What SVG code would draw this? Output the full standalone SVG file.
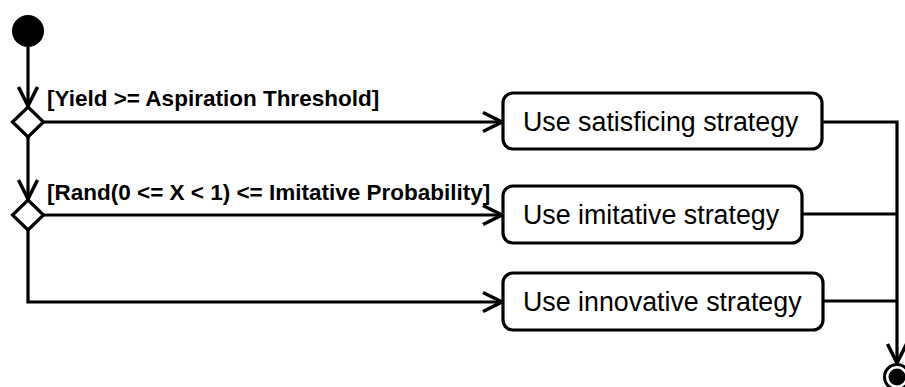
<svg xmlns="http://www.w3.org/2000/svg" width="905" height="387" viewBox="0 0 905 387">
<defs>
<marker id="arr" viewBox="0 0 24 24" refX="21" refY="12" markerWidth="24" markerHeight="24" markerUnits="userSpaceOnUse" orient="auto">
<path d="M2,2.5 L21,12 L2,21.5" fill="none" stroke="#000" stroke-width="3.5"/>
</marker>
<style>
.ln{fill:none;stroke:#000;stroke-width:3.2}
.box{fill:#fff;stroke:#000;stroke-width:3.2}
.guard{font-family:"Liberation Sans",Arial,sans-serif;font-weight:bold;font-size:22.5px;fill:#000}
.act{font-family:"Liberation Sans",Arial,sans-serif;font-size:26.8px;fill:#000}
</style>
</defs>
<rect width="905" height="387" fill="#fff"/>
<g id="connectors">
<path class="ln" d="M28,47 L28,106" marker-end="url(#arr)"/>
<path class="ln" d="M28,136 L28,199" marker-end="url(#arr)"/>
<path class="ln" d="M43,122 L502,122" marker-end="url(#arr)"/>
<path class="ln" d="M43,215 L502,215" marker-end="url(#arr)"/>
<path class="ln" d="M28,229 L28,302 L502,302" marker-end="url(#arr)"/>
<path class="ln" d="M822,122 L897,122 L897,363" marker-end="url(#arr)"/>
<path class="ln" d="M802,214 L897,214"/>
<path class="ln" d="M823,301 L897,301"/>
<text class="guard" x="47" y="106">[Yield &gt;= Aspiration Threshold]</text>
<text class="guard" x="47" y="200">[Rand(0 &lt;= X &lt; 1) &lt;= Imitative Probability]</text>
</g>
<g id="start"><circle cx="28" cy="31" r="16" fill="#000"/></g>
<g id="decision1"><path class="box" d="M28,107 L43.5,122 L28,137 L12.5,122 Z"/></g>
<g id="decision2"><path class="box" d="M28,200 L43.5,215 L28,230 L12.5,215 Z"/></g>
<g id="satisficing"><rect class="box" x="503" y="93" width="319" height="56" rx="10"/><text class="act" x="523" y="131">Use satisficing strategy</text></g>
<g id="imitative"><rect class="box" x="503" y="186" width="299" height="57" rx="10"/><text class="act" x="523" y="224">Use imitative strategy</text></g>
<g id="innovative"><rect class="box" x="503" y="273" width="320" height="57" rx="10"/><text class="act" x="523" y="311">Use innovative strategy</text></g>
<g id="end"><circle cx="897" cy="377" r="12.5" fill="#fff" stroke="#000" stroke-width="3"/><circle cx="897" cy="377" r="8.5" fill="#000"/></g>
</svg>
